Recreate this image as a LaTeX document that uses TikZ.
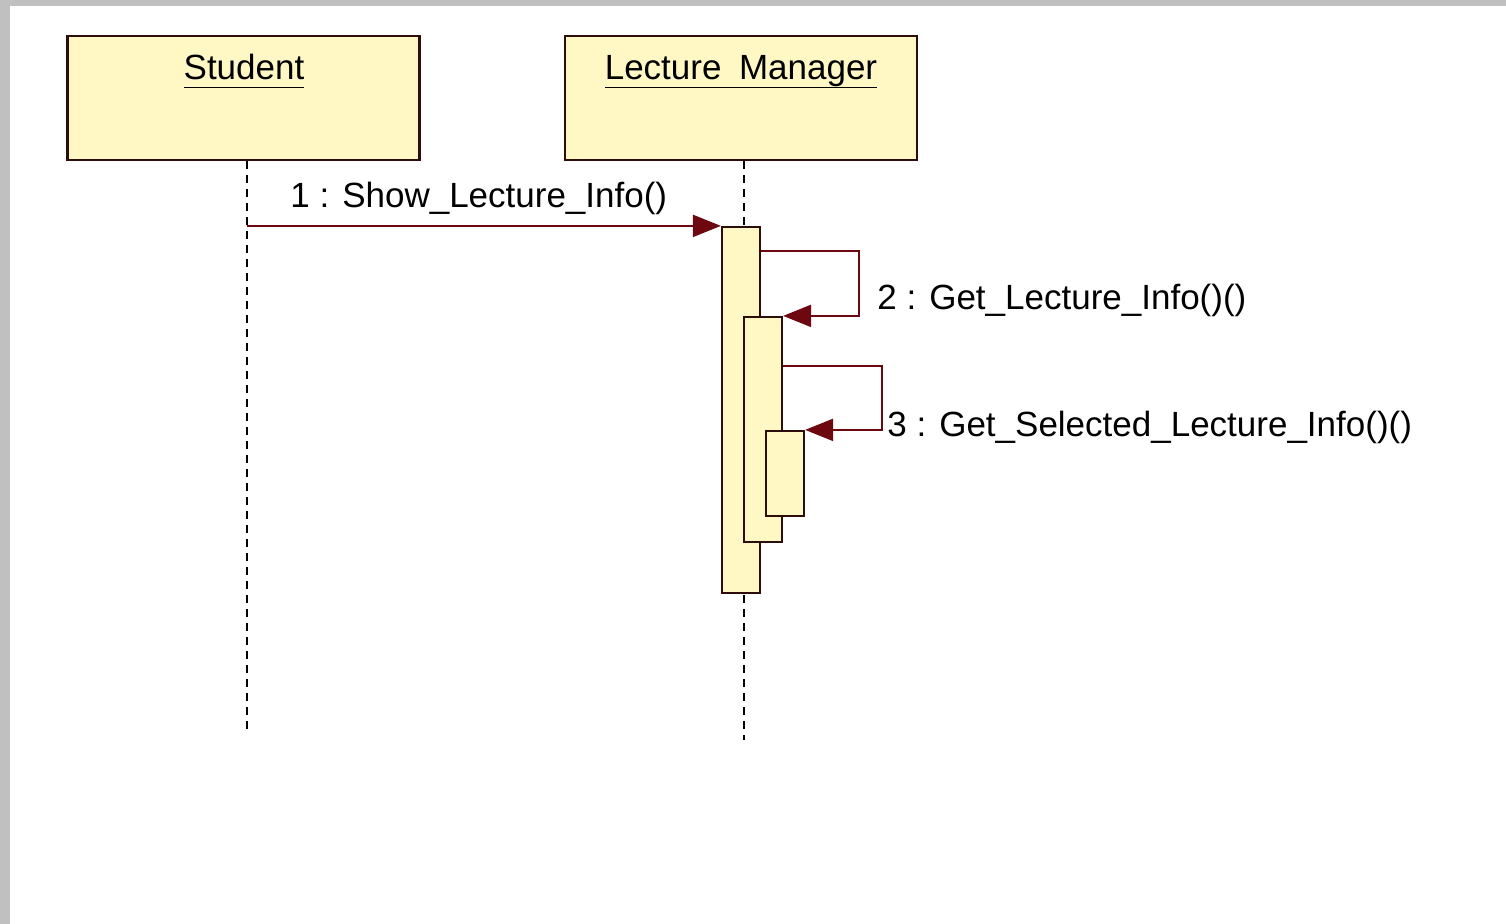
\documentclass[tikz,border=0pt]{standalone}
\usepackage{fontspec}
\setmainfont{Liberation Sans}
\usepackage{xcolor}
\usetikzlibrary{positioning,arrows.meta,calc}

\definecolor{objfill}{RGB}{255,248,196}
\definecolor{objline}{RGB}{45,12,12}
\definecolor{msgline}{RGB}{110,8,16}
\definecolor{msghead}{RGB}{135,0,10}
\definecolor{frame}{RGB}{192,192,192}

% object name, underlined at a fixed depth
\newcommand{\objname}[1]{\underline{\raisebox{0pt}[\height][2.4pt]{#1}}}

\begin{document}
\begin{tikzpicture}[
    x=0.5pt, y=-0.5pt,
    actor/.style={rectangle, draw=objline, fill=objfill, line width=1.2pt, minimum width=176pt, minimum height=62pt, inner sep=0pt},
    actname/.style={font=\fontsize{17.5}{21}\selectfont, inner sep=0pt},
    actbar/.style={rectangle, draw=objline, fill=objfill, line width=1.1pt, minimum width=19pt, inner sep=0pt},
    lifeline/.style={draw=black, line width=0.9pt, dash pattern=on 4pt off 3pt},
    arrow/.style={-{Triangle[length=14pt,width=11pt]}, draw=msgline, line width=1pt, color=msghead},
    msg/.style={font=\fontsize{17.5}{21}\selectfont, inner sep=0pt, anchor=west}
]
\useasboundingbox (0,0) rectangle (1506,924);

% Window frame
\fill[frame] (0,0) rectangle (1506,924);
\fill[white] (10,6) rectangle (1506,924);

% Actors
\node[actor] (student) at (243.5,98) {};
\node[actor] (manager) at (741,98) {};
\node[actname, anchor=base] (studentname) at (244,80) {\objname{Student}};
\node[actname, anchor=base] (managername) at (741,80) {\objname{Lecture\hspace{0.5em}Manager}};

% Lifelines
\coordinate (s_end) at (247,730);
\coordinate (m_end) at (744,740);
\draw[lifeline] (student.south -| s_end) -- (s_end);
\draw[lifeline] (manager.south -| m_end) -- (m_end);

% Activations
\node[actbar, minimum height=183pt] (act1) at (741,410) {};
\node[actbar, minimum height=112.5pt] (act2) at (763,429.5) {};
\node[actbar, minimum height=42.5pt] (act3) at (785,473.5) {};

% Message 1: Student -> Lecture Manager
\coordinate (s1) at (s_end |- act1.north);
\draw[arrow, draw=msgline] (s1) -- (act1.north west);
\node[msg] (m1) at (290,198) {1 : Show\_Lecture\_Info()};

% Message 2: self call
\coordinate (a1) at ($(act1.north east)+(0,25)$);
\draw[arrow, draw=msgline] (a1) -- ++(98,0) |- (act2.north east);
\node[msg] (m2) at (877,300) {2 : Get\_Lecture\_Info()()};

% Message 3: self call
\coordinate (a2) at ($(act2.north east)+(0,50)$);
\draw[arrow, draw=msgline] (a2) -- ++(99,0) |- (act3.north east);
\node[msg] (m3) at (887,427) {3 : Get\_Selected\_Lecture\_Info()()};

\end{tikzpicture}
\end{document}
